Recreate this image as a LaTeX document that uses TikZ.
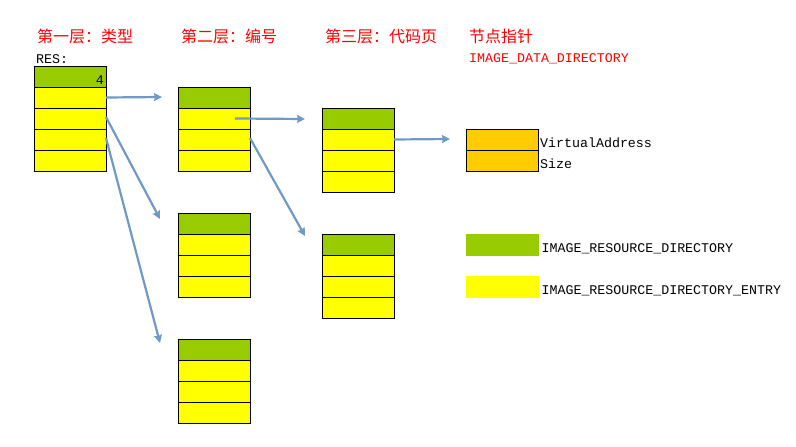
\documentclass[tikz,border=0pt]{standalone}
\usepackage{fontspec}
\setmonofont{Liberation Mono}
\newfontfamily\cjk{Noto Sans CJK SC}
\usetikzlibrary{arrows.meta}
\definecolor{dirgreen}{RGB}{153,204,0}
\definecolor{entryyellow}{RGB}{255,255,0}
\definecolor{dataorange}{RGB}{255,204,0}
\definecolor{linkblue}{RGB}{112,153,198}
\tikzset{
	cell/.style={draw, line width=0.9pt, minimum width=72pt, minimum height=21pt, inner sep=0pt, outer sep=0pt, anchor=north west},
	dirrow/.style={cell, fill=dirgreen},
	entryrow/.style={cell, fill=entryyellow},
	datarow/.style={cell, fill=dataorange},
	swatch/.style={fill=#1, minimum width=73pt, minimum height=22pt, inner sep=0pt, anchor=north west},
	link/.style={draw=linkblue, line width=2.2pt, -{Stealth[length=8pt,width=8pt,inset=1pt]}},
	title/.style={text=red, font=\cjk\fontsize{16}{16}\selectfont, anchor=west, inner sep=0pt},
	mono/.style={font=\ttfamily\fontsize{13.3}{13.3}\selectfont, anchor=base west, inner sep=0pt},
}
% one directory: green header and #4 yellow entries
\newcommand\resbox[4]{%
	\node[dirrow] (#1-0) at (#2,#3) {};
	\foreach \i in {1,...,#4}
		\node[entryrow] (#1-\i) at (#2,{#3+21*\i}) {};
}
\begin{document}
\begin{tikzpicture}[x=1pt,y=-1pt]
	\useasboundingbox (0,0) rectangle (796,447);
	% titles
	\node[title] (t1) at (37,36) {第一层：类型};
	\node[title] (t2) at (181,36) {第二层：编号};
	\node[title] (t3) at (325,36) {第三层：代码页};
	\node[title] (t4) at (469,36) {节点指针};
	\node[mono, text=red] (dd) at (469,62) {IMAGE\_DATA\_DIRECTORY};
	\node[mono] (res) at (36,63) {RES:};
	% directories
	\resbox{b1}{34}{66}{4}
	\node[mono, anchor=base east] (cnt) at ([xshift=-2pt,yshift=-7.5pt]b1-0.east) {4};
	\resbox{b2}{178}{87}{3}
	\resbox{b3}{178}{213}{3}
	\resbox{b4}{178}{339}{3}
	\resbox{b5}{322}{108}{3}
	\resbox{b6}{322}{234}{3}
	% data entry
	\node[datarow] (va) at (466,129) {};
	\node[datarow] (sz) at (466,150) {};
	\node[mono] (valbl) at ([xshift=2pt,yshift=-7.5pt]va.east) {VirtualAddress};
	\node[mono] (szlbl) at ([xshift=2pt,yshift=-7.5pt]sz.east) {Size};
	% legend
	\node[swatch=dirgreen] (lg) at (466,234) {};
	\node[swatch=entryyellow] (ly) at (466,276) {};
	\node[mono] (lglbl) at ([xshift=2pt,yshift=-7pt]lg.east) {IMAGE\_RESOURCE\_DIRECTORY};
	\node[mono] (lylbl) at ([xshift=2pt,yshift=-7pt]ly.east) {IMAGE\_RESOURCE\_DIRECTORY\_ENTRY};
	% arrow ends
	\coordinate (e1) at (162,97);
	\coordinate (e2) at (160,219);
	\coordinate (e3) at (160,343);
	\coordinate (e4) at (305,119);
	\coordinate (e5) at (305,236);
	\coordinate (e6) at (450,139);
	\draw[link] (b1-1.east) -- (e1);
	\draw[link] ([yshift=1.5pt]b1-2.east) -- (e2);
	\draw[link] ([yshift=1.5pt]b1-3.east) -- (e3);
	\draw[link] ([xshift=-15pt]b2-1.east) -- (e4);
	\draw[link] ([yshift=1.5pt]b2-2.east) -- (e5);
	\draw[link] (b5-1.east) -- (e6);
\end{tikzpicture}
\end{document}
